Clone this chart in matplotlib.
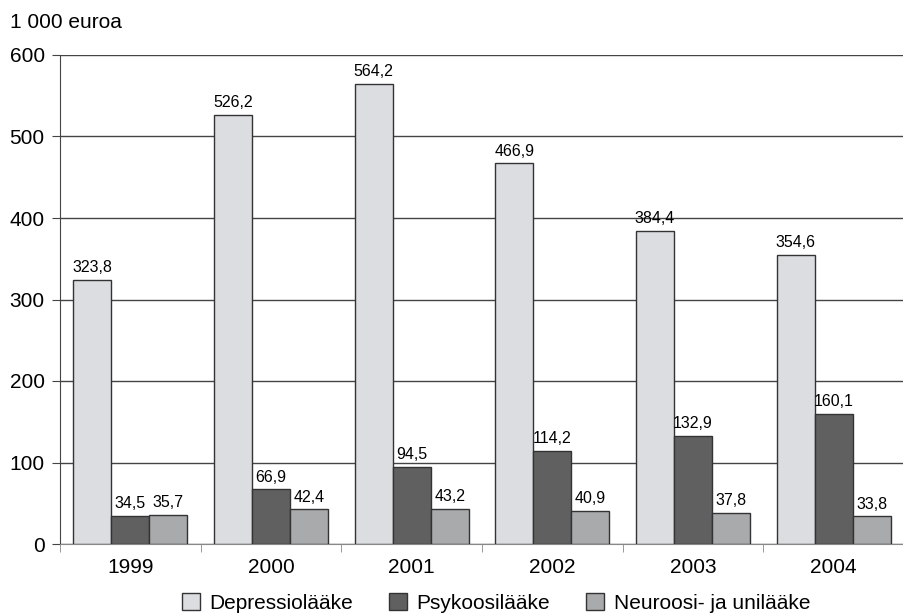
import numpy as np
import matplotlib.pyplot as plt
from matplotlib.patches import Patch

plt.rcParams['font.family'] = ['Liberation Sans', 'DejaVu Sans']

years = ['1999', '2000', '2001', '2002', '2003', '2004']
depressio = [323.8, 526.2, 564.2, 466.9, 384.4, 354.6]
psykoosi = [34.5, 66.9, 94.5, 114.2, 132.9, 160.1]
neuroosi = [35.7, 42.4, 43.2, 40.9, 37.8, 33.8]
series_names = ['Depressiolääke', 'Psykoosilääke', 'Neuroosi- ja unilääke']
colors = ['#dcdde0', '#606060', '#a9aaac']

fig = plt.figure(figsize=(9.04, 6.15), dpi=100)
ax = fig.add_axes([60 / 904, 1 - 544 / 615, 844 / 904, 489 / 615])

x = np.arange(len(years))
w = 0.27
for i, (vals, c) in enumerate(zip([depressio, psykoosi, neuroosi], colors)):
    pos = x + (i - 1) * w
    bars = ax.bar(pos, vals, width=w, color=c, edgecolor='#333333', linewidth=1, zorder=3)
    for b, v in zip(bars, vals):
        ax.text(b.get_x() + b.get_width() / 2, v + 6, f'{v:.1f}'.replace('.', ','),
                ha='center', va='bottom', fontsize=11.5, zorder=4)

ax.set_xlim(-0.5, len(years) - 0.5)
ax.set_ylim(0, 600)
ax.set_yticks(range(0, 601, 100))
ax.yaxis.grid(True, color='#444444', linewidth=1, zorder=0)
ax.tick_params(axis='y', labelsize=15, length=6, color='#444444', pad=5)

ax.set_xticks(x)
ax.set_xticklabels(years, fontsize=15)
ax.tick_params(axis='x', length=0, pad=10)
ax.set_xticks(np.arange(-0.5, len(years)), minor=True)
ax.tick_params(axis='x', which='minor', length=6, color='#888888')

for s in ['top', 'right']:
    ax.spines[s].set_visible(False)
ax.spines['left'].set_color('#444444')
ax.spines['bottom'].set_color('#888888')

fig.text(10 / 904, 1 - 22 / 615, '1 000 euroa', fontsize=15, va='center', ha='left')

handles = [Patch(facecolor=c, edgecolor='#333333', label=n) for c, n in zip(colors, series_names)]
fig.legend(handles=handles, loc='center', bbox_to_anchor=(496 / 904, 1 - 603 / 615), ncol=3,
           frameon=False, fontsize=15, handlelength=0.85, handleheight=0.85,
           handletextpad=0.45, columnspacing=1.75, borderaxespad=0)

fig.savefig('out.png', dpi=100)
